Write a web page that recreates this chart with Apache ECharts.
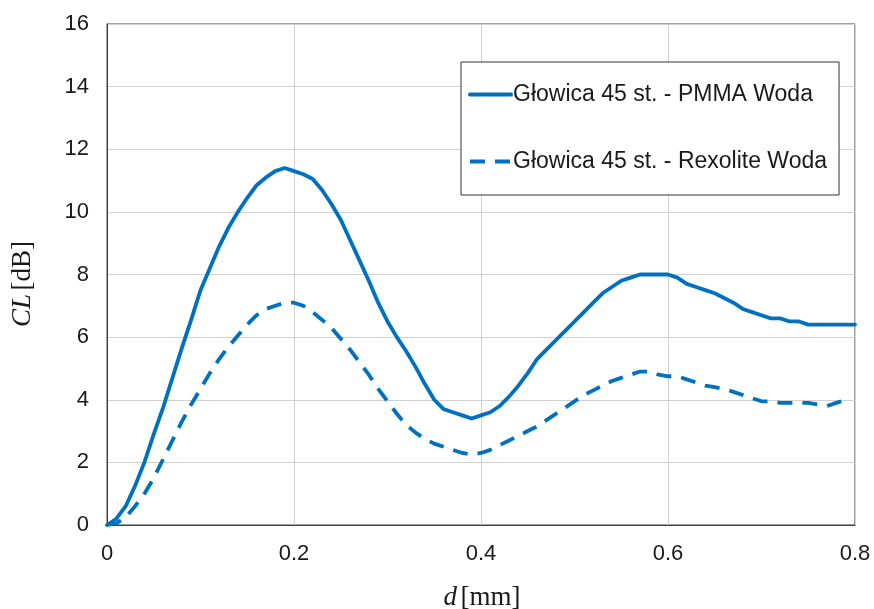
<!DOCTYPE html>
<html>
<head>
<meta charset="utf-8">
<script src="https://cdn.jsdelivr.net/npm/echarts@6/dist/echarts.min.js"></script>
<style>html,body{margin:0;padding:0;background:#fff;}#c{width:874px;height:609px;}</style>
</head>
<body>
<div id="c"></div>
<script>
const seriesNames = ['Głowica 45 st. - PMMA Woda', 'Głowica 45 st. - Rexolite Woda'];
const dValues = [0,0.01,0.02,0.03,0.04,0.05,0.06,0.07,0.08,0.09,0.10,0.11,0.12,0.13,0.14,0.15,0.16,0.17,0.18,0.19,0.20,0.21,0.22,0.23,0.24,0.25,0.26,0.27,0.28,0.29,0.30,0.31,0.32,0.33,0.34,0.35,0.36,0.37,0.38,0.39,0.40,0.41,0.42,0.43,0.44,0.45,0.46,0.47,0.48,0.49,0.50,0.51,0.52,0.53,0.54,0.55,0.56,0.57,0.58,0.59,0.60,0.61,0.62,0.63,0.64,0.65,0.66,0.67,0.68,0.69,0.70,0.71,0.72,0.73,0.74,0.75,0.76,0.77,0.78,0.79,0.80];
const pmma = [0,0.2,0.6,1.25,2.0,2.9,3.75,4.7,5.65,6.55,7.5,8.2,8.9,9.5,10.0,10.45,10.85,11.1,11.3,11.4,11.3,11.2,11.05,10.7,10.25,9.75,9.1,8.45,7.8,7.1,6.5,6.0,5.55,5.05,4.5,4.0,3.7,3.6,3.5,3.4,3.5,3.6,3.8,4.1,4.45,4.85,5.3,5.6,5.9,6.2,6.5,6.8,7.1,7.4,7.6,7.8,7.9,8.0,8.0,8.0,8.0,7.9,7.7,7.6,7.5,7.4,7.25,7.1,6.9,6.8,6.7,6.6,6.6,6.5,6.5,6.4,6.4,6.4,6.4,6.4,6.4];
const rexolite = [0,0.05,0.25,0.6,1.0,1.5,2.1,2.7,3.3,3.85,4.35,4.85,5.3,5.7,6.05,6.4,6.7,6.9,7.0,7.1,7.1,7.0,6.8,6.55,6.3,5.95,5.6,5.2,4.8,4.35,3.95,3.55,3.2,2.95,2.75,2.6,2.5,2.4,2.3,2.25,2.3,2.4,2.55,2.7,2.85,3.0,3.15,3.35,3.55,3.75,3.95,4.15,4.3,4.45,4.6,4.7,4.8,4.9,4.9,4.8,4.75,4.75,4.65,4.55,4.45,4.4,4.35,4.25,4.15,4.05,3.95,3.95,3.9,3.9,3.9,3.9,3.85,3.8,3.9,4.0];
const xTicks = [0,0.2,0.4,0.6,0.8];
const yTicks = [0,2,4,6,8,10,12,14,16];

const pair = (vals) => vals.map((v, i) => [dValues[i], v]);
const blue = '#0070C0';
const serif = 'Liberation Serif, Times New Roman, serif';
const sans = 'Liberation Sans, Arial, sans-serif';
const richName = {
  i: {fontFamily: serif, fontStyle: 'italic', fontSize: 27, fill: '#1a1a1a', color: '#1a1a1a'},
  n: {fontFamily: serif, fontSize: 27, fill: '#1a1a1a', color: '#1a1a1a'}
};
const chart = echarts.init(document.getElementById('c'), null, {renderer: 'canvas'});
chart.setOption({
  backgroundColor: '#fff',
  animation: false,
  grid: {left: 107, right: 19, top: 24, bottom: 84, show: true, borderColor: '#404040', borderWidth: 1, containLabel: false, outerBoundsMode: 'none'},
  xAxis: {
    type: 'value', min: xTicks[0], max: xTicks[xTicks.length-1], interval: 0.2,
    axisLine: {show: true, lineStyle: {color: '#404040', width: 1}},
    axisTick: {show: false},
    splitLine: {show: true, lineStyle: {color: '#d0d0d0', width: 1}},
    axisLabel: {color: '#1a1a1a', fontSize: 22, fontFamily: sans, margin: 18,
      formatter: v => String(+v.toFixed(1))}
  },
  yAxis: {
    type: 'value', min: yTicks[0], max: yTicks[yTicks.length-1], interval: 2,
    axisLine: {show: true, lineStyle: {color: '#404040', width: 1}},
    axisTick: {show: false},
    splitLine: {show: true, lineStyle: {color: '#d0d0d0', width: 1}},
    axisLabel: {color: '#1a1a1a', fontSize: 22, fontFamily: sans, margin: 18}
  },
  graphic: [
    {type: 'text', x: 23, y: 284, rotation: Math.PI / 2,
      style: {text: '{i|CL} {n|[dB]}', rich: richName, align: 'center', verticalAlign: 'middle'}},
    {type: 'text', x: 482, y: 598,
      style: {text: '{i|d} {n|[mm]}', rich: richName, align: 'center', verticalAlign: 'middle'}}
  ],
  legend: {
    show: true, orient: 'vertical', left: 461, top: 62,
    data: seriesNames,
    backgroundColor: '#fff', borderColor: '#333', borderWidth: 1,
    padding: [21, 12, 22, 7],
    itemWidth: 41, itemHeight: 24, itemGap: 44,
    itemStyle: {opacity: 0},
    lineStyle: {width: 4},
    textStyle: {fontSize: 23, fontFamily: sans, color: '#1a1a1a', padding: [0,0,0,-3]}
  },
  series: [
    {name: seriesNames[0], type: 'line', data: pair(pmma), symbol: 'none', smooth: false,
      lineStyle: {color: blue, width: 3.8, cap: 'round', join: 'round'}, itemStyle: {color: blue}},
    {name: seriesNames[1], type: 'line', data: pair(rexolite), symbol: 'none', smooth: false,
      lineStyle: {color: blue, width: 3.8, type: [15, 10], cap: 'butt', join: 'round'}, itemStyle: {color: blue}}
  ]
});
</script>
</body>
</html>
